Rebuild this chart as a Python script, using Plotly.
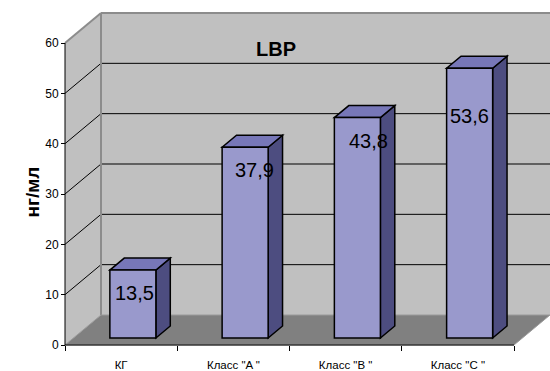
import plotly.graph_objects as go

# Data
categories = ["КГ", 'Класс "A "', 'Класс "B "', 'Класс "C "']
values = [13.5, 37.9, 43.8, 53.6]
y_ticks = [0, 10, 20, 30, 40, 50, 60]
title_text = "LBP"
y_title = "нг/мл"

# Geometry (pixel scale of the chart box, used to set axis ranges)
W, H = 550, 371
X0_PX, Y0_PX = 65, 345          # origin of the front axes
KX = 112.25                      # px per category
KY = 302 / 60                    # px per value unit
DEPTH_PX = (36, 30)              # oblique depth of the box
dxc = DEPTH_PX[0] / KX
dyv = DEPTH_PX[1] / KY
YMAX = 60
N = len(categories)

BAR_LEFT = 0.325                 # bar left edge within a category (floor plane)
BAR_W = 0.41
F0, F1 = 0.233, 0.633            # bar front/back depth fractions

LABEL_SHIFT_PX = [2, 9, 11, 0]
LABEL_DROP_PX = [23, 23, 23, 48]

WALL = "#C0C0C0"
FLOOR = "#808080"
EDGE = "#8C8C8C"
FRONT = "#9999CC"
TOP = "#7777B8"
SIDE = "#4D4D80"
FONT = "Arial, Liberation Sans, sans-serif"


def poly(pts, fill, line_color, lw, layer="above"):
    path = "M " + " L ".join(f"{x},{y}" for x, y in pts) + " Z"
    return dict(type="path", path=path, xref="x", yref="y", fillcolor=fill,
                line=dict(color=line_color, width=lw), layer=layer)


def seg(x0, y0, x1, y1, color, lw):
    return dict(type="line", x0=x0, y0=y0, x1=x1, y1=y1, xref="x", yref="y",
                line=dict(color=color, width=lw))


shapes = []
# Walls and floor
shapes.append(poly([(0, 0), (0, YMAX), (dxc, YMAX + dyv), (dxc, dyv)], WALL, WALL, 0))
shapes.append(poly([(dxc, dyv), (dxc, YMAX + dyv), (N + dxc, YMAX + dyv), (N + dxc, dyv)], WALL, WALL, 0))
# Gridlines on side and back walls
for t in y_ticks[1:-1]:
    shapes.append(seg(0, t, dxc, t + dyv, "black", 1))
    shapes.append(seg(dxc, t + dyv, N + dxc, t + dyv, "black", 1))
# Wall edges
shapes.append(seg(0, YMAX, dxc, YMAX + dyv, EDGE, 2))
shapes.append(seg(dxc, YMAX + dyv, N + dxc, YMAX + dyv, EDGE, 2))
shapes.append(seg(dxc, dyv, dxc, YMAX + dyv, EDGE, 2))
# Floor
shapes.append(poly([(0, 0), (N, 0), (N + dxc, dyv), (dxc, dyv)], FLOOR, "#9A9A9A", 1))

# Bars as oblique boxes
annotations = []
for i, v in enumerate(values):
    xl = i + BAR_LEFT
    xr = xl + BAR_W
    ax0, ay0 = F0 * dxc, F0 * dyv
    ax1, ay1 = F1 * dxc, F1 * dyv
    front = [(xl + ax0, ay0), (xr + ax0, ay0), (xr + ax0, v + ay0), (xl + ax0, v + ay0)]
    top = [(xl + ax0, v + ay0), (xr + ax0, v + ay0), (xr + ax1, v + ay1), (xl + ax1, v + ay1)]
    side = [(xr + ax0, ay0), (xr + ax1, ay1), (xr + ax1, v + ay1), (xr + ax0, v + ay0)]
    shapes.append(poly(side, SIDE, "black", 1.5))
    shapes.append(poly(top, TOP, "black", 1.5))
    shapes.append(poly(front, FRONT, "black", 1.5))
    cx = (xl + xr) / 2 + ax0 + LABEL_SHIFT_PX[i] / KX
    cy = v + ay0 - LABEL_DROP_PX[i] / KY
    annotations.append(dict(x=cx, y=cy, xref="x", yref="y", showarrow=False,
                            text=f"{v:.1f}".replace(".", ","),
                            font=dict(family=FONT, size=20, color="black")))

# Front axis lines
shapes.append(seg(0, 0, N, 0, "black", 1))
shapes.append(seg(0, 0, 0, YMAX, "black", 1))

annotations.append(dict(x=276 / W, y=1 - 36 / H, xref="paper", yref="paper", showarrow=False,
                        text=f"<b>{title_text}</b>", font=dict(family=FONT, size=20, color="black")))
annotations.append(dict(x=19 / W, y=1 - 192 / H, xref="paper", yref="paper", showarrow=False,
                        text=f"<b>{y_title}</b>", textangle=-90,
                        font=dict(family=FONT, size=19, color="black")))

fig = go.Figure()
fig.add_trace(go.Scatter(x=[None], y=[None], showlegend=False, hoverinfo="skip"))
fig.update_layout(
    width=W, height=H,
    margin=dict(l=0, r=0, t=0, b=0),
    paper_bgcolor="white", plot_bgcolor="white",
    showlegend=False,
    shapes=shapes,
    annotations=annotations,
    xaxis=dict(
        range=[-X0_PX / KX, (W - X0_PX) / KX],
        tickvals=[i + 0.5 for i in range(N)], ticktext=categories,
        ticks="outside", ticklen=9, tickcolor="rgba(0,0,0,0)",
        minor=dict(tickvals=list(range(N + 1)), ticks="outside", ticklen=5,
                   tickcolor="black", tickwidth=1),
        anchor="free", position=(H - Y0_PX) / H,
        showgrid=False, zeroline=False, showline=False,
        tickfont=dict(family=FONT, size=11.5, color="black"),
        fixedrange=True,
    ),
    yaxis=dict(
        range=[(Y0_PX - H) / KY, Y0_PX / KY],
        tickvals=y_ticks, ticks="outside", ticklen=4, tickcolor="black",
        anchor="free", position=X0_PX / W,
        showgrid=False, zeroline=False, showline=False,
        tickfont=dict(family=FONT, size=12, color="black"),
        fixedrange=True,
    ),
)

fig.write_html("out.html")
